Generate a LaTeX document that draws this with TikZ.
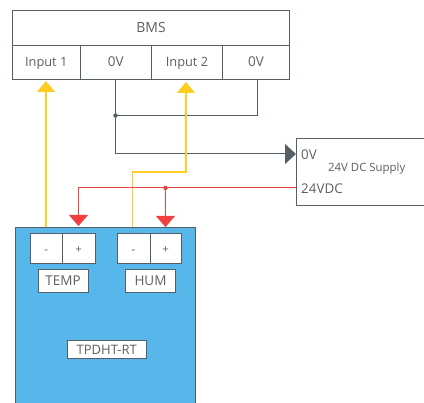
\documentclass[tikz,border=0pt]{standalone}
\usepackage{fontspec}
\setmainfont{Open Sans}
\usetikzlibrary{arrows.meta}
\definecolor{txt}{HTML}{5F5F5F}
\definecolor{edge}{HTML}{555F66}
\definecolor{blue1}{HTML}{57B7EA}
\definecolor{yel}{HTML}{FFCC22}
\definecolor{redw}{HTML}{F04040}
\tikzset{
  box/.style={draw=edge,line width=1pt,fill=white,text=txt,font=\fontsize{12.5}{14}\selectfont,inner sep=0pt,anchor=north west,text height=10.5pt,text depth=1.5pt},
  term/.style={box,font=\fontsize{11.5}{13}\selectfont},
  yelwire/.style={draw=yel,line width=1.3pt,-{Triangle[width=18pt,length=11pt,fill=yel]}},
  redwire/.style={draw=redw,line width=1pt,-{Triangle[width=19pt,length=11pt,fill=redw]}},
  wire/.style={draw=edge,line width=1pt},
  dot/.style={circle,fill=#1,inner sep=0pt,minimum size=4.5pt},
}
\begin{document}
\begin{tikzpicture}[x=1pt,y=-1pt]
\useasboundingbox (0,0) rectangle (424,403);
% main unit
\path[fill=blue1,draw=edge,line width=1pt] (15.5,410) -- (15.5,227.5) -- (195,227.5) -- (195,410);
\node[term,minimum width=32.5pt,minimum height=29.5pt] (tm) at (29.5,233.5) {-\hspace{6pt}};
\node[term,minimum width=32.5pt,minimum height=29.5pt] (tp) at (62,233.5) {+\hspace{2pt}};
\node[term,minimum width=33pt,minimum height=29.5pt] (hm) at (116.5,233.5) {-\hspace{2pt}};
\node[term,minimum width=31.5pt,minimum height=29.5pt] (hp) at (149.5,233.5) {+};
\node[box,font=\fontsize{13.5}{15}\selectfont,minimum width=50pt,minimum height=23pt] (temp) at (37.5,269.5) {TEMP};
\node[box,font=\fontsize{13.5}{15}\selectfont,minimum width=50pt,minimum height=23pt] (hum) at (125,269.5) {HUM};
\node[box,font=\fontsize{13}{15}\selectfont,minimum width=78.5pt,minimum height=18.5pt] (rt) at (67,340) {TPDHT-RT};
% BMS
\node[box,font=\fontsize{14}{16}\selectfont,minimum width=277pt,minimum height=35pt] (bms) at (12,10.5) {BMS};
\node[box,font=\fontsize{12.8}{15}\selectfont,minimum width=67.5pt,minimum height=34pt] (in1) at (12,45) {Input 1\hspace{6pt}};
\node[box,font=\fontsize{13.5}{15}\selectfont,minimum width=71.5pt,minimum height=34pt] (v1) at (79.5,45) {0V\hspace{3pt}};
\node[box,font=\fontsize{12.8}{15}\selectfont,minimum width=71pt,minimum height=34pt] (in2) at (151,45) {Input 2\hspace{3pt}};
\node[box,font=\fontsize{13.5}{15}\selectfont,minimum width=67pt,minimum height=34pt] (v2) at (222,45) {0V};
% supply
\path[fill=white,draw=edge,line width=1pt] (430,138.5) -- (296,138.5) -- (296,205.5) -- (430,205.5);
\coordinate (sup0) at (296,154);
\coordinate (sup24) at (296,188);
\node[text=txt,font=\fontsize{13.4}{15}\selectfont,anchor=west,inner sep=0pt] (t0) at (301,154.5) {0V};
\node[text=txt,font=\fontsize{11.4}{13}\selectfont,anchor=west,inner sep=0pt] (tsup) at (328,168.5) {24V DC Supply};
\node[text=txt,font=\fontsize{13.4}{15}\selectfont,anchor=west,inner sep=0pt] (t24) at (301,188.5) {24VDC};
% junction coordinates
\coordinate (j0) at (115.5,115.5);
\coordinate (j24) at (165.5,188);
% black wires
\draw[wire] (j0) -- (257,115.5) -- (257,79);
\draw[wire,-{Triangle[width=20pt,length=11pt,fill=edge]}] (115.5,79) -- (115.5,154) -- (sup0);
\node[dot=edge] (jd0) at (j0) {};
% yellow wires
\draw[yelwire] (46,227) -- (46,81);
\draw[yelwire] (132.5,227) -- (132.5,172) -- (186,172) -- (186,82);
% red wires
\draw[redwire] (sup24) -- (78.5,188) -- (78.5,226);
\draw[redwire] (j24) -- (165.5,227);
\node[dot=redw] (jd24) at (j24) {};
\end{tikzpicture}
\end{document}
